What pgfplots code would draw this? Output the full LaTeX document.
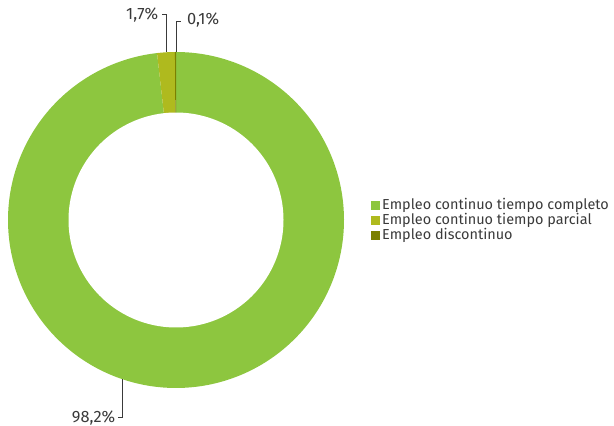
\documentclass[border=0pt]{standalone}
\usepackage{fontspec}
\setmainfont{Fira Sans}
\usepackage{pgfplots}
\pgfplotsset{compat=1.18}
\definecolor{cA}{HTML}{8DC63F}
\definecolor{cB}{HTML}{AFBA1E}
\definecolor{cC}{HTML}{7B8000}
\definecolor{txt}{HTML}{3A3A3A}
% slice values (percent)
\def\vA{98.2}
\def\vB{1.7}
\def\vC{0.1}
\pgfmathsetmacro\aA{90}
\pgfmathsetmacro\aB{\aA-3.6*\vA}
\pgfmathsetmacro\aC{\aB-3.6*\vB}
\pgfmathsetmacro\aD{\aC-3.6*\vC}
\def\cx{176}
\def\cy{206}
\def\R{168}
\def\r{107.5}
\begin{document}
\begin{tikzpicture}
\useasboundingbox (0,0) rectangle (614bp,426bp);
\clip (0,0) rectangle (614bp,426bp);
\begin{axis}[
  width=614bp, height=426bp, scale only axis,
  xmin=0, xmax=614, ymin=0, ymax=426,
  hide axis, clip=false,
  legend cell align=left,
  legend image code/.code={\fill[#1, draw=none] (0bp,-4.5bp) rectangle (9bp,4.5bp);},
  legend style={at={(axis cs:370.5,228)}, anchor=north west, draw=none, fill=none,
    inner sep=0pt, font=\fontsize{14.5}{14.5}\selectfont, text=txt,
    nodes={inner sep=0.5bp, text height=10.5bp, text depth=3.5bp},
    /tikz/every odd column/.append style={column sep=2bp}},
]
\addplot[fill=cA, draw=none, domain=\aB:\aA, samples=300]
  ({\cx+\R*cos(x)},{\cy+\R*sin(x)}) -- (axis cs:\cx,\cy) -- cycle;
\addlegendentry{Empleo continuo tiempo completo}
\addplot[fill=cB, draw=none, domain=\aC:\aB, samples=8]
  ({\cx+\R*cos(x)},{\cy+\R*sin(x)}) -- (axis cs:\cx,\cy) -- cycle;
\addlegendentry{Empleo continuo tiempo parcial}
\addplot[fill=cC, draw=none, domain=\aD:\aC, samples=3]
  ({\cx+\R*cos(x)},{\cy+\R*sin(x)}) -- (axis cs:\cx,\cy) -- cycle;
\addlegendentry{Empleo discontinuo}
\addplot[fill=white, draw=none, domain=0:360, samples=200, forget plot]
  ({\cx+\r*cos(x)},{\cy+\r*sin(x)}) -- cycle;
% leader lines and labels
\draw[txt, line width=0.8bp] (axis cs:162,411.3) -- (axis cs:166.7,411.3) -- (axis cs:166.7,374);
\node[txt, anchor=base east, inner sep=0pt, font=\fontsize{16.5}{16.5}\selectfont] at (axis cs:158.5,406) {1,7\%};
\draw[txt, line width=0.8bp] (axis cs:180.5,404.7) -- (axis cs:176.7,404.7) -- (axis cs:176.7,374);
\node[txt, anchor=base west, inner sep=0pt, font=\fontsize{16.5}{16.5}\selectfont] at (axis cs:187,401.5) {0,1\%};
\draw[txt, line width=0.8bp] (axis cs:118,9) -- (axis cs:122.7,9) -- (axis cs:122.7,47);
\node[txt, anchor=base east, inner sep=0pt, font=\fontsize{16.5}{16.5}\selectfont] at (axis cs:115.5,3.5) {98,2\%};
\end{axis}
\end{tikzpicture}
\end{document}
